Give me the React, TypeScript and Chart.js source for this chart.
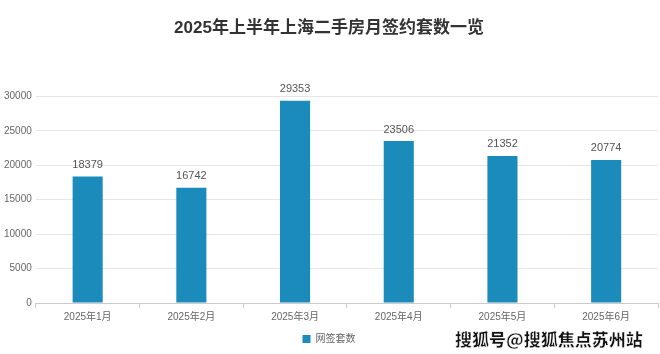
import React, { useEffect, useRef } from "react";
import { Chart, registerables } from "chart.js";

Chart.register(...registerables);

const titleText = "2025年上半年上海二手房月签约套数一览";
const categories = ["2025年1月", "2025年2月", "2025年3月", "2025年4月", "2025年5月", "2025年6月"];
const seriesName = "网签套数";
const values = [18379, 16742, 29353, 23506, 21352, 20774];
const watermark = "搜狐号@搜狐焦点苏州站";

const FONT = "'Liberation Sans', 'Noto Sans CJK SC', sans-serif";

const labelPlugin = {
  id: "barLabels",
  afterDatasetsDraw(chart: any) {
    const ctx = chart.ctx;
    const meta = chart.getDatasetMeta(0);
    ctx.save();
    ctx.font = `11px ${FONT}`;
    ctx.fillStyle = "#555";
    ctx.textAlign = "center";
    ctx.textBaseline = "bottom";
    meta.data.forEach((bar: any, i: number) => {
      ctx.fillText(String(values[i]), bar.x, bar.y - 6);
    });
    ctx.restore();
  },
};

export default function App() {
  const ref = useRef<HTMLCanvasElement>(null);
  useEffect(() => {
    if (!ref.current) return;
    const chart = new Chart(ref.current, {
      type: "bar",
      data: {
        labels: categories,
        datasets: [
          {
            label: seriesName,
            data: values,
            backgroundColor: "#1a8bbb",
            barPercentage: 0.29,
            categoryPercentage: 1,
          },
        ],
      },
      options: {
        animation: false,
        responsive: false,
        layout: { padding: { left: 0, right: 2, top: 0, bottom: 0 } },
        plugins: {
          title: {
            display: true,
            text: titleText,
            font: { family: FONT, size: 17, weight: "bold" },
            color: "#333",
            padding: { top: 18, bottom: 58 },
          },
          legend: {
            position: "bottom",
            labels: {
              boxWidth: 8,
              boxHeight: 8,
              font: { family: FONT, size: 10 },
              color: "#666",
              padding: 8,
            },
          },
          tooltip: { enabled: false },
        },
        scales: {
          y: {
            min: 0,
            max: 30000,
            ticks: {
              stepSize: 5000,
              font: { family: FONT, size: 10 },
              color: "#666",
              padding: 4,
              callback: (v: any) => String(v),
            },
            grid: { color: "#e6e6e6", drawTicks: false },
            border: { display: false },
          },
          x: {
            offset: true,
            ticks: { font: { family: FONT, size: 10 }, color: "#666", padding: 3 },
            grid: { drawOnChartArea: false, tickLength: 5, color: "#ccc", offset: true },
            border: { color: "#ccc" },
          },
        },
      },
      plugins: [labelPlugin],
    });
    return () => chart.destroy();
  }, []);
  return (
    <div style={{ position: "absolute", left: 0, top: 0, width: 660, height: 354, background: "#fff" }}>
      <canvas ref={ref} width={660} height={354} />
      <div
        style={{
          position: "absolute",
          left: 455,
          top: 326,
          fontFamily: "'Noto Sans CJK SC', sans-serif",
          fontWeight: 900,
          fontSize: 17,
          color: "#111",
          WebkitTextStroke: "0.5px #fff",
          textShadow: "0 0 2px #fff",
          whiteSpace: "nowrap",
        }}
      >
        {watermark}
      </div>
    </div>
  );
}
